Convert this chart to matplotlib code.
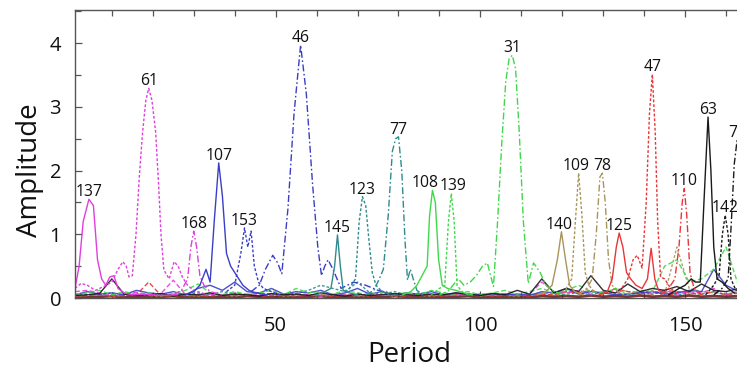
import numpy as np
import matplotlib
matplotlib.use("Agg")
import matplotlib.pyplot as plt
from matplotlib.ticker import MultipleLocator

plt.rcParams['font.family'] = ['Open Sans', 'DejaVu Sans']

MAG = '#e03fdc'
BLU = '#3a3ec6'
TEAL = '#2e8b8e'
GRN = '#3fd84a'
OLV = '#a8955a'
RED = '#e8353a'
BLK = '#1a1a1a'
DRK = '#6b1f1f'

# ---- labelled periodograms: (label, colour, style, periods, amplitudes)
lab_137 = '137'; x_137 = [1, 2, 3, 4.4, 5.5, 6.5, 7.5, 8.5, 9.5, 10.5, 11.5, 13, 15, 18, 22, 26]
y_137 = [0.15, 0.5, 1.2, 1.55, 1.45, 0.6, 0.3, 0.2, 0.33, 0.35, 0.15, 0.08, 0.05, 0.06, 0.04, 0.05]
lab_61 = '61'; x_61 = [1, 2.5, 4, 6, 8, 10, 11.5, 12.7, 13.5, 14.2, 15, 15.9, 16.7, 17.5, 18.3, 19, 19.8, 20.7, 21.4, 22, 22.7, 24, 25.2, 26.2, 27.2, 28.5, 30, 33]
y_61 = [0.15, 0.23, 0.2, 0.12, 0.18, 0.25, 0.45, 0.57, 0.5, 0.33, 0.35, 1.0, 1.9, 2.6, 3.1, 3.29, 3.1, 2.6, 1.8, 1.0, 0.44, 0.3, 0.57, 0.5, 0.33, 0.2, 0.12, 0.06]
lab_168 = '168'; x_168 = [25, 27, 28.5, 29.3, 30, 30.7, 31.5, 32.5, 34, 37]
y_168 = [0.05, 0.12, 0.3, 0.8, 1.05, 0.8, 0.35, 0.2, 0.1, 0.05]
lab_107 = '107'; x_107 = [28, 30, 31.5, 33, 34, 35, 36.1, 37, 38, 39, 40, 41, 42, 43.5, 45, 48]
y_107 = [0.05, 0.1, 0.2, 0.45, 0.25, 1.2, 2.12, 1.6, 0.7, 0.5, 0.4, 0.3, 0.2, 0.12, 0.08, 0.05]
lab_153 = '153'; x_153 = [38, 40, 41.5, 42.4, 43.2, 44, 44.8, 45.8, 47, 49, 51]
y_153 = [0.1, 0.2, 0.7, 1.1, 0.8, 1.05, 0.5, 0.25, 0.15, 0.1, 0.05]
lab_46 = '46'; x_46 = [44, 46, 47.5, 49.3, 50.5, 51.5, 53, 54.5, 56.1, 57.5, 59, 60.3, 61.2, 62, 62.8, 64, 66, 69, 72, 75, 78]
y_46 = [0.1, 0.2, 0.45, 0.67, 0.55, 0.38, 1.4, 2.9, 3.97, 3.2, 1.8, 0.8, 0.35, 0.5, 0.6, 0.45, 0.15, 0.25, 0.2, 0.12, 0.08]
lab_145 = '145'; x_145 = [60, 62, 63.5, 64.4, 65.1, 65.8, 66.5, 68, 70]
y_145 = [0.05, 0.1, 0.15, 0.5, 0.99, 0.5, 0.12, 0.08, 0.05]
lab_123 = '123'; x_123 = [66, 68, 69.5, 70.4, 71.2, 72, 72.8, 73.6, 74.5, 76, 78]
y_123 = [0.05, 0.15, 0.3, 1.2, 1.59, 1.45, 0.9, 0.4, 0.2, 0.1, 0.05]
lab_77 = '77'; x_77 = [72, 74, 75.3, 76.3, 77.5, 78.5, 79.3, 80, 80.8, 81.6, 82.2, 82.9, 83.6, 84.5, 86]
y_77 = [0.05, 0.12, 0.3, 0.45, 1.3, 2.3, 2.5, 2.53, 2.0, 0.9, 0.28, 0.45, 0.3, 0.12, 0.05]
lab_108 = '108'; x_108 = [81, 83, 84.5, 86, 87, 87.6, 88.3, 89, 89.8, 90.7, 92, 94, 96, 98]
y_108 = [0.05, 0.1, 0.2, 0.38, 0.5, 1.3, 1.69, 1.5, 0.6, 0.2, 0.15, 0.12, 0.08, 0.05]
lab_139 = '139'; x_139 = [88, 90, 91.3, 92.2, 92.9, 93.6, 94.3, 95.5, 97]
y_139 = [0.05, 0.15, 0.2, 1.2, 1.64, 1.2, 0.2, 0.1, 0.05]
lab_31 = '31'; x_31 = [90, 92, 94.6, 96, 97.5, 99, 100.5, 101.7, 102.5, 103.2, 104.2, 105.2, 106.2, 107, 107.8, 108.6, 109.5, 110.5, 111.7, 113, 114.6, 116, 118, 121]
y_31 = [0.05, 0.1, 0.3, 0.2, 0.25, 0.35, 0.5, 0.55, 0.35, 0.18, 1.2, 2.4, 3.4, 3.75, 3.81, 3.6, 2.6, 1.2, 0.23, 0.55, 0.4, 0.2, 0.1, 0.05]
lab_140 = '140'; x_140 = [114, 116, 117.5, 118.8, 119.8, 120.8, 121.8, 123, 125]
y_140 = [0.05, 0.1, 0.2, 0.6, 1.04, 0.6, 0.2, 0.1, 0.05]
lab_109 = '109'; x_109 = [119, 121, 122.3, 123.2, 124, 124.8, 125.6, 126.5, 128]
y_109 = [0.05, 0.15, 0.3, 1.2, 1.96, 1.3, 0.4, 0.2, 0.08]
lab_78 = '78'; x_78 = [124, 126, 127.3, 128.3, 129.2, 129.8, 130.5, 131.3, 132.2, 133.5, 135]
y_78 = [0.05, 0.15, 0.3, 1.0, 1.9, 1.96, 1.5, 0.6, 0.2, 0.1, 0.05]
lab_125 = '125'; x_125 = [129, 131, 132.2, 133.2, 133.9, 134.8, 135.7, 136.7, 138, 139.5, 140.8, 141.7, 142.6, 143.5, 145, 147]
y_125 = [0.05, 0.1, 0.3, 0.8, 1.02, 0.8, 0.4, 0.3, 0.2, 0.15, 0.3, 0.78, 0.3, 0.12, 0.08, 0.05]
lab_47 = '47'; x_47 = [134, 136, 137.3, 138.3, 139.5, 140.5, 141.3, 142, 142.7, 143.3, 144, 145, 146.5, 148]
y_47 = [0.1, 0.3, 0.6, 0.67, 0.47, 1.5, 2.9, 3.51, 2.6, 1.2, 0.33, 0.3, 0.15, 0.08]
lab_110 = '110'; x_110 = [144, 146, 147.5, 148.5, 149.3, 149.8, 150.4, 151.2, 152.2, 154]
y_110 = [0.05, 0.15, 0.3, 0.8, 1.5, 1.72, 1.3, 0.4, 0.15, 0.05]
lab_63 = '63'; x_63 = [146, 148.5, 150, 151.5, 152.5, 153.7, 154.6, 155.6, 156.3, 157, 157.8, 159, 160.5, 162]
y_63 = [0.05, 0.15, 0.2, 0.3, 0.25, 0.25, 1.5, 2.84, 2.0, 0.8, 0.3, 0.25, 0.15, 0.08]
lab_142 = '142'; x_142 = [155, 157, 158.3, 159.1, 159.8, 160.5, 161.2, 162.2, 164]
y_142 = [0.05, 0.2, 0.35, 1.0, 1.3, 1.0, 0.3, 0.15, 0.05]
lab_79 = '79'; x_79 = [157, 159, 160.5, 161.3, 162, 162.7, 163.4, 164.2, 165.5, 167]
y_79 = [0.05, 0.15, 0.3, 1.2, 2.1, 2.48, 2.1, 1.0, 0.3, 0.1]

labelled = [
    (lab_137, MAG, 'solid', x_137, y_137), (lab_61, MAG, 'dot', x_61, y_61), (lab_168, MAG, 'dashdot', x_168, y_168),
    (lab_107, BLU, 'solid', x_107, y_107), (lab_153, BLU, 'dot', x_153, y_153), (lab_46, BLU, 'dashdot', x_46, y_46),
    (lab_145, TEAL, 'solid', x_145, y_145), (lab_123, TEAL, 'dot', x_123, y_123), (lab_77, TEAL, 'dashdot', x_77, y_77),
    (lab_108, GRN, 'solid', x_108, y_108), (lab_139, GRN, 'dot', x_139, y_139), (lab_31, GRN, 'dashdot', x_31, y_31),
    (lab_140, OLV, 'solid', x_140, y_140), (lab_109, OLV, 'dot', x_109, y_109), (lab_78, OLV, 'dashdot', x_78, y_78),
    (lab_125, RED, 'solid', x_125, y_125), (lab_47, RED, 'dot', x_47, y_47), (lab_110, RED, 'dashdot', x_110, y_110),
    (lab_63, BLK, 'solid', x_63, y_63), (lab_142, BLK, 'dot', x_142, y_142), (lab_79, BLK, 'dashdot', x_79, y_79),
]
# horizontal nudges (in periods) for crowded labels
label_shift = {'108': -1.8, '139': 0.4, '140': -0.6, '109': -0.5}

# ---- noise-floor periodograms sampled every 3 periods
floor_x = np.arange(1, 170, 3)
f_blk = [0.04, 0.05, 0.07, 0.30, 0.06, 0.04, 0.05, 0.07, 0.03, 0.06,
         0.05, 0.08, 0.04, 0.06, 0.05, 0.03, 0.07, 0.05, 0.06, 0.04,
         0.08, 0.05, 0.03, 0.06, 0.04, 0.05, 0.07, 0.05, 0.04, 0.06,
         0.05, 0.08, 0.06, 0.04, 0.07, 0.05, 0.12, 0.06, 0.30, 0.08,
         0.15, 0.10, 0.35, 0.12, 0.08, 0.22, 0.10, 0.15, 0.12, 0.18,
         0.10, 0.22, 0.12, 0.10, 0.15, 0.10, 0.08]
f_mag = [0.10, 0.12, 0.08, 0.05, 0.06, 0.09, 0.05, 0.07, 0.28, 0.05,
         0.04, 0.06, 0.05, 0.08, 0.04, 0.05, 0.06, 0.04, 0.07, 0.05,
         0.03, 0.06, 0.05, 0.04, 0.06, 0.05, 0.04, 0.07, 0.05, 0.06,
         0.04, 0.05, 0.06, 0.04, 0.05, 0.07, 0.05, 0.06, 0.25, 0.10,
         0.08, 0.12, 0.06, 0.10, 0.08, 0.06, 0.10, 0.08, 0.12, 0.06,
         0.10, 0.08, 0.15, 0.06, 0.10, 0.12, 0.08]
f_red = [0.03, 0.04, 0.05, 0.03, 0.04, 0.05, 0.25, 0.04, 0.03, 0.05,
         0.04, 0.03, 0.05, 0.04, 0.06, 0.03, 0.04, 0.05, 0.03, 0.04,
         0.05, 0.03, 0.04, 0.06, 0.03, 0.05, 0.04, 0.03, 0.05, 0.04,
         0.03, 0.05, 0.04, 0.06, 0.03, 0.04, 0.05, 0.03, 0.06, 0.05,
         0.10, 0.08, 0.12, 0.06, 0.15, 0.10, 0.08, 0.06, 0.12, 0.10,
         0.08, 0.06, 0.10, 0.05, 0.08, 0.06, 0.05]
f_grn = [0.06, 0.08, 0.12, 0.05, 0.10, 0.06, 0.08, 0.05, 0.07, 0.12,
         0.22, 0.08, 0.05, 0.10, 0.06, 0.08, 0.12, 0.05, 0.15, 0.08,
         0.10, 0.06, 0.12, 0.08, 0.05, 0.10, 0.06, 0.08, 0.05, 0.12,
         0.08, 0.06, 0.10, 0.05, 0.08, 0.12, 0.06, 0.10, 0.15, 0.08,
         0.12, 0.20, 0.10, 0.08, 0.15, 0.06, 0.12, 0.10, 0.50, 0.60,
         0.25, 0.30, 0.45, 0.80, 0.20, 0.15, 0.10]
f_blu = [0.05, 0.10, 0.06, 0.08, 0.05, 0.12, 0.08, 0.06, 0.10, 0.05,
         0.15, 0.20, 0.12, 0.25, 0.10, 0.08, 0.15, 0.06, 0.10, 0.08,
         0.12, 0.05, 0.08, 0.15, 0.06, 0.10, 0.05, 0.08, 0.06, 0.10,
         0.05, 0.08, 0.06, 0.05, 0.07, 0.05, 0.06, 0.04, 0.10, 0.08,
         0.15, 0.06, 0.10, 0.08, 0.05, 0.06, 0.08, 0.10, 0.06, 0.08,
         0.12, 0.10, 0.45, 0.20, 0.10, 0.08, 0.06]
f_teal = [0.04, 0.06, 0.05, 0.08, 0.05, 0.06, 0.04, 0.07, 0.05, 0.06,
          0.08, 0.05, 0.10, 0.06, 0.05, 0.08, 0.06, 0.05, 0.07, 0.12,
          0.20, 0.15, 0.10, 0.25, 0.08, 0.06, 0.10, 0.05, 0.08, 0.06,
          0.05, 0.07, 0.04, 0.06, 0.05, 0.04, 0.06, 0.05, 0.07, 0.04,
          0.06, 0.08, 0.05, 0.10, 0.06, 0.05, 0.08, 0.06, 0.10, 0.05,
          0.08, 0.06, 0.10, 0.05, 0.08, 0.06, 0.05]
f_olv = [0.03, 0.04, 0.05, 0.03, 0.04, 0.05, 0.04, 0.03, 0.05, 0.04,
         0.03, 0.05, 0.04, 0.03, 0.05, 0.04, 0.06, 0.03, 0.04, 0.05,
         0.03, 0.04, 0.05, 0.03, 0.04, 0.06, 0.03, 0.05, 0.04, 0.03,
         0.05, 0.04, 0.06, 0.03, 0.05, 0.04, 0.03, 0.05, 0.08, 0.06,
         0.10, 0.08, 0.12, 0.06, 0.15, 0.10, 0.08, 0.12, 0.06, 0.80,
         0.15, 0.10, 0.08, 0.06, 0.10, 0.08, 0.05]
f_drk = [0.02, 0.01, 0.02, 0.03, 0.01, 0.02, 0.01, 0.02, 0.03, 0.01,
         0.02, 0.01, 0.02, 0.01, 0.03, 0.02, 0.01, 0.02, 0.01, 0.02,
         0.03, 0.01, 0.02, 0.01, 0.02, 0.01, 0.03, 0.02, 0.01, 0.02,
         0.01, 0.02, 0.03, 0.01, 0.02, 0.01, 0.02, 0.01, 0.03, 0.02,
         0.03, 0.02, 0.04, 0.02, 0.03, 0.02, 0.04, 0.02, 0.03, 0.02,
         0.04, 0.02, 0.03, 0.02, 0.03, 0.02, 0.02]
floors = [(f_drk, DRK, 'solid'), (f_olv, OLV, 'dot'), (f_teal, TEAL, 'dot'),
          (f_red, RED, 'dash'), (f_mag, MAG, 'dash'), (f_blu, BLU, 'solid'),
          (f_grn, GRN, 'dash'), (f_blk, BLK, 'solid')]

styles = {'solid': '-', 'dot': (0, (2, 1.4)), 'dashdot': (0, (5, 1.8, 1.2, 1.8)), 'dash': (0, (3.5, 1.8))}

W, H = 737, 369
fig = plt.figure(figsize=(W / 100, H / 100), dpi=100)
x0_px, x1_px = 75, 767
y_bot, y_top = 298, 10
ax = fig.add_axes([x0_px / W, (H - y_bot) / H, (x1_px - x0_px) / W, (y_bot - y_top) / H])

for vals, c, s in floors:
    ax.plot(floor_x, vals, color=c, ls=styles[s], lw=1.0 if c != DRK else 2.0, alpha=0.9)

for lab, c, s, xs, ys in labelled:
    ax.plot(xs, ys, color=c, ls=styles[s], lw=1.0)
    i = int(np.argmax(ys))
    ax.text(xs[i] + label_shift.get(lab, 0), ys[i] + 0.05, lab, ha='center', va='baseline',
            fontsize=11.3, color='#111111')

ax.set_xlim(1, 170)
ax.set_ylim(0, 4.52)
ax.xaxis.set_major_locator(MultipleLocator(50))
ax.xaxis.set_minor_locator(MultipleLocator(10))
ax.yaxis.set_major_locator(MultipleLocator(1))
ax.yaxis.set_minor_locator(MultipleLocator(0.5))
ax.tick_params(which='both', direction='in', top=True, right=True, colors='#555555',
               labelcolor='#111111', labelsize=14.5)
ax.tick_params(which='major', length=5, width=0.9)
ax.tick_params(which='minor', length=4, width=0.9)
ax.tick_params(axis='x', pad=13)
ax.tick_params(axis='y', pad=10)
for sp in ax.spines.values():
    sp.set_color('#555555')
    sp.set_linewidth(1.0)

ax.text((409 - x0_px) / (x1_px - x0_px), -(362 - y_bot) / (y_bot - y_top), 'Period',
        transform=ax.transAxes, ha='center', va='baseline', fontsize=20, color='#111111')
ax.text((30 - x0_px) / (x1_px - x0_px), (y_bot - 170) / (y_bot - y_top), 'Amplitude',
        transform=ax.transAxes, ha='center', va='center', rotation=90, fontsize=20, color='#111111')

fig.savefig('out.png', dpi=100)
